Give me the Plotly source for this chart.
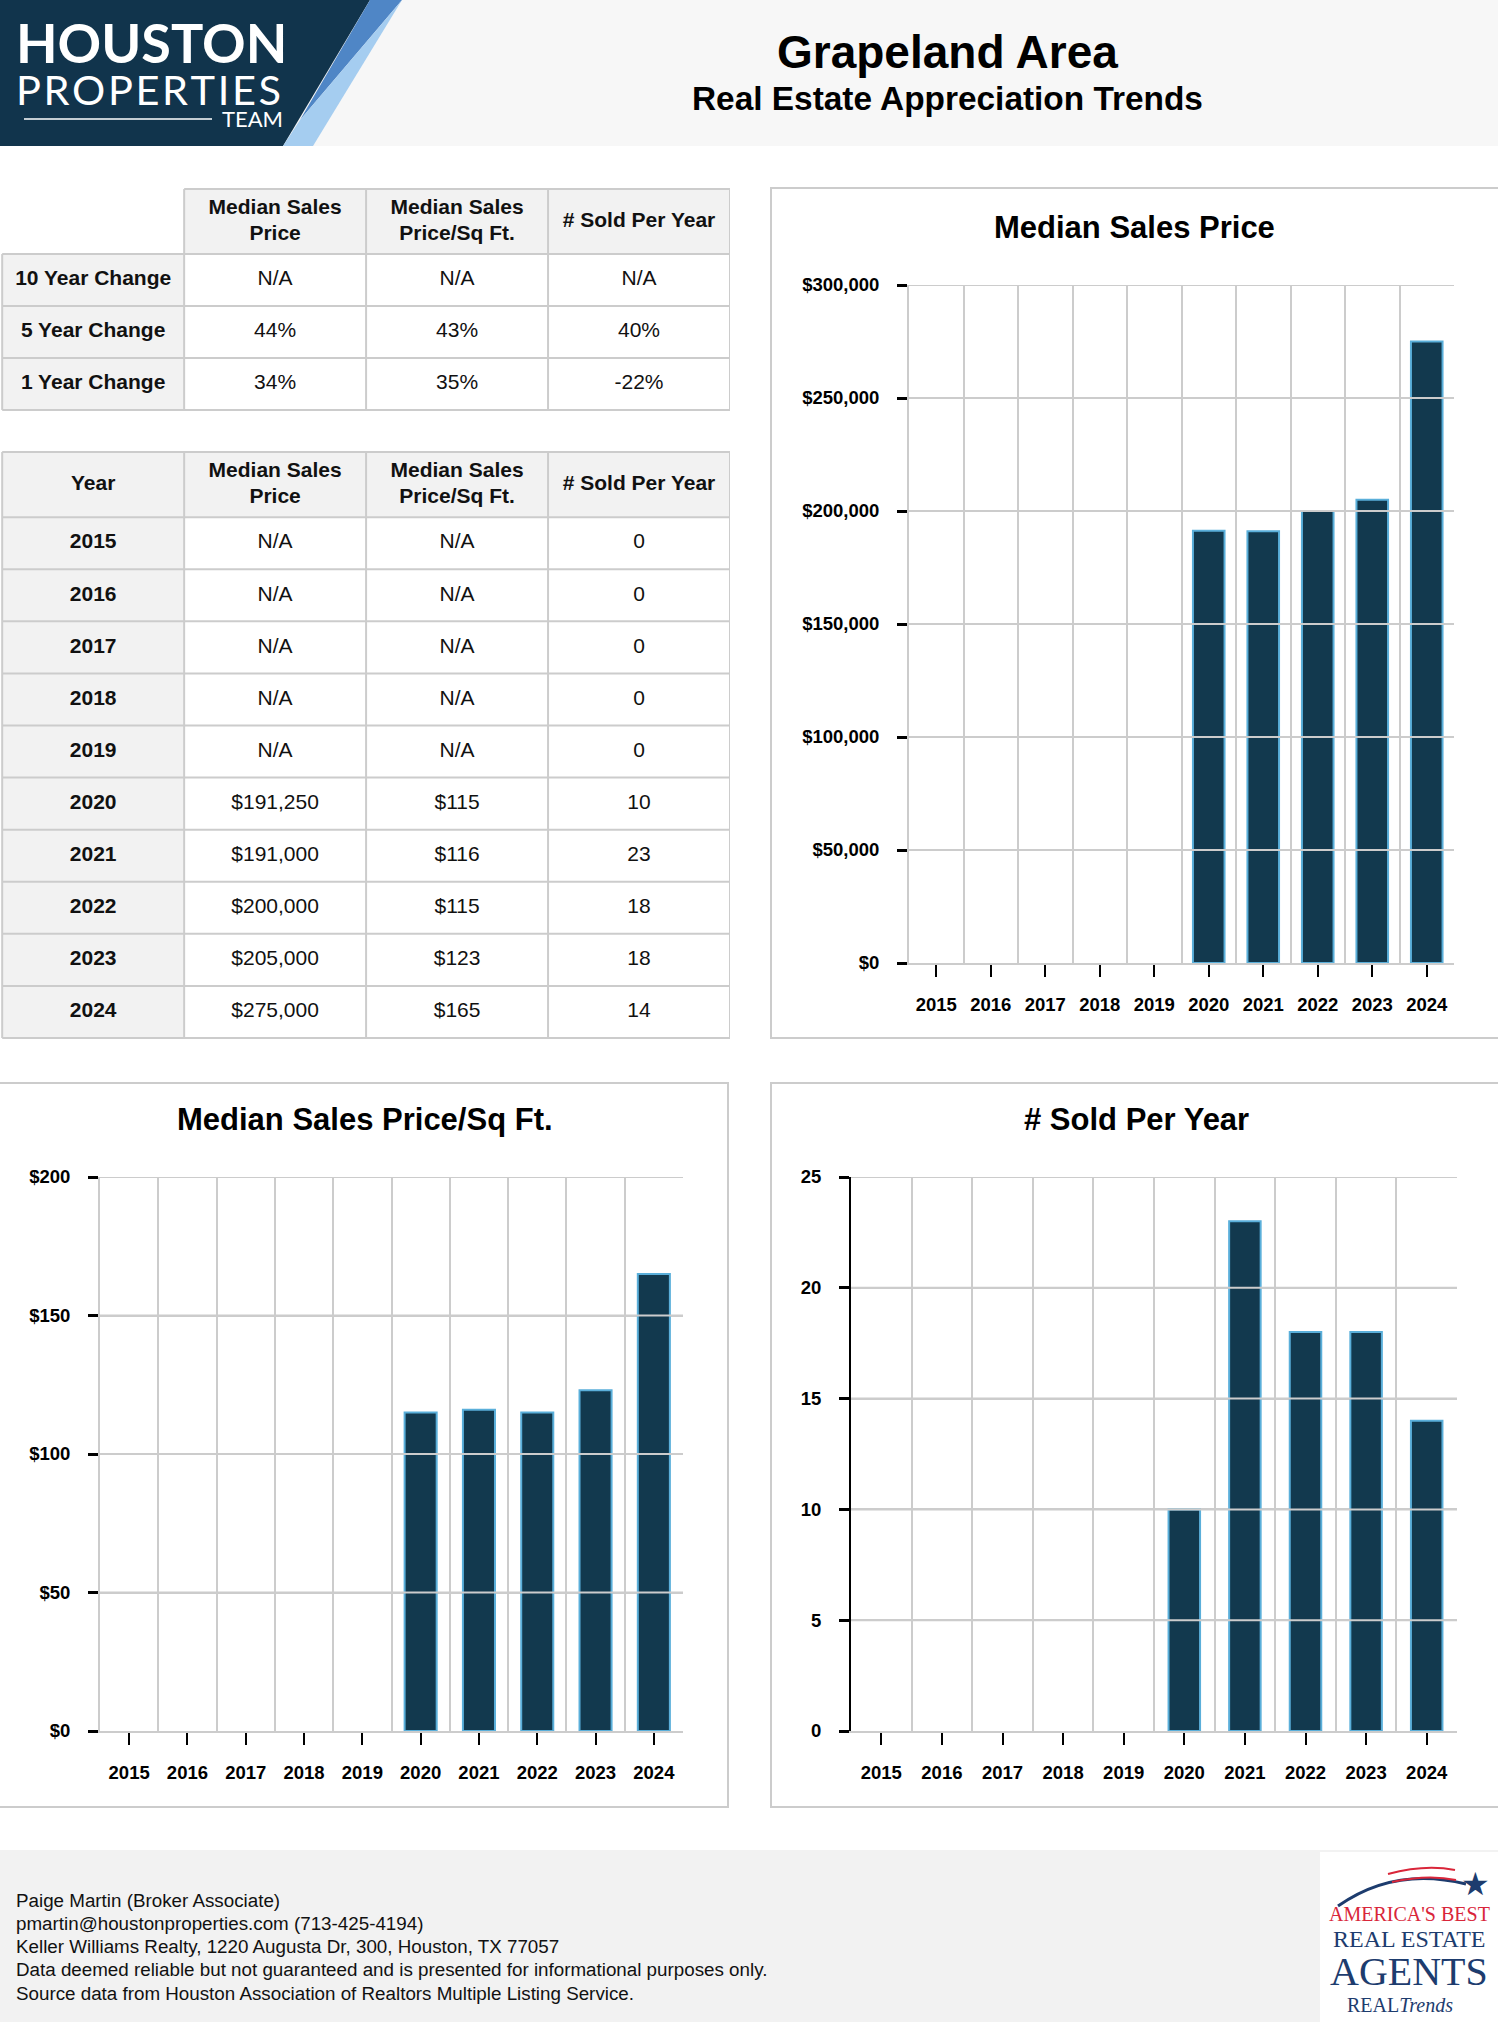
"""Grapeland Area - real estate appreciation trends sheet (plotly)."""
import plotly.graph_objects as go

W, H = 1498, 2022

years = [2015, 2016, 2017, 2018, 2019, 2020, 2021, 2022, 2023, 2024]
median_price = [None, None, None, None, None, 191250, 191000, 200000, 205000, 275000]
price_per_sqft = [None, None, None, None, None, 115, 116, 115, 123, 165]
sold_per_year = [0, 0, 0, 0, 0, 10, 23, 18, 18, 14]

change_labels = ["10 Year Change", "5 Year Change", "1 Year Change"]
change_price = ["N/A", "44%", "34%"]
change_ppsf = ["N/A", "43%", "35%"]
change_sold = ["N/A", "40%", "-22%"]

metric_headers = ["Median Sales<br>Price", "Median Sales<br>Price/Sq Ft.", "# Sold Per Year"]

footer_lines = [
    "Paige Martin (Broker Associate)",
    "pmartin@houstonproperties.com (713-425-4194)",
    "Keller Williams Realty, 1220 Augusta Dr, 300, Houston, TX 77057",
    "Data deemed reliable but not guaranteed and is presented for informational purposes only.",
    "Source data from Houston Association of Realtors Multiple Listing Service.",
]

FONT = "Liberation Sans, Arial, sans-serif"
LOGO_FONT = "Lato, Open Sans, sans-serif"
SERIF = "Liberation Serif, DejaVu Serif, serif"
NAVY = "#11344c"
BAR = "#12394e"
BAR_EDGE = "#5aafda"
GRID = "#cccccc"
HEAD_BG = "#f2f2f2"
TABLE_SIZE = 21
TICK_SIZE = 18.5


def fx(x):
    return x / W


def fy(y):
    return 1 - y / H


def money(v):
    return "N/A" if v is None else f"${v:,}"


fig = go.Figure()
shapes = []
annotations = []


def ann(text, x, y, size, color="black", family=FONT, xanchor="center", bold=False):
    annotations.append(dict(
        text=f"<b>{text}</b>" if bold else text, x=fx(x), y=fy(y),
        xref="paper", yref="paper", xanchor=xanchor, yanchor="middle",
        showarrow=False, font=dict(family=family, size=size, color=color)))


def rect(x0, y0, x1, y1, fill, line=None, width=0, layer="below"):
    shapes.append(dict(type="rect", xref="paper", yref="paper",
                       x0=fx(x0), y0=fy(y0), x1=fx(x1), y1=fy(y1),
                       fillcolor=fill, line=dict(color=line or fill, width=width),
                       layer=layer))


def poly(points, fill):
    path = "M " + " L ".join(f"{fx(x)},{fy(y)}" for x, y in points) + " Z"
    shapes.append(dict(type="path", xref="paper", yref="paper", path=path,
                       fillcolor=fill, line=dict(width=0), layer="below"))


# ---------------- tables ----------------
HEAD_UNITS = 1.25


def add_table(header, rows, xa, ya, blank_corner):
    edges = [0, HEAD_UNITS] + [HEAD_UNITS + i + 1 for i in range(len(rows))]
    z = [[0 if blank_corner else 1, 1, 1, 1]] + [[1, 0, 0, 0] for _ in rows]
    fig.add_trace(go.Heatmap(x=[0, 1, 2, 3, 4], y=edges, z=z, zmin=0, zmax=1,
                             colorscale=[[0, "white"], [1, HEAD_BG]], showscale=False,
                             hoverinfo="skip", xaxis=xa, yaxis=ya))
    lx, ly = [], []
    for i, e in enumerate(edges):
        lx += [1 if (blank_corner and i == 0) else 0, 4, None]
        ly += [e, e, None]
    for c in range(5):
        lx += [c, c, None]
        ly += [edges[1] if (blank_corner and c == 0) else 0, edges[-1], None]
    fig.add_trace(go.Scatter(x=lx, y=ly, mode="lines", line=dict(color=GRID, width=2),
                             hoverinfo="skip", xaxis=xa, yaxis=ya))

    bx, by, bt, rx, ry, rt = [], [], [], [], [], []
    for c, label in enumerate(header):
        parts = label.split("<br>")
        for k, part in enumerate(parts):
            bx.append(c + 0.5)
            by.append(HEAD_UNITS / 2 + (k - (len(parts) - 1) / 2) * 0.5)
            bt.append(f"<b>{part}</b>")
    for r, row in enumerate(rows):
        yc = edges[r + 1] + 0.5
        for c, val in enumerate(row):
            if c == 0:
                bx.append(c + 0.5); by.append(yc); bt.append(f"<b>{val}</b>")
            else:
                rx.append(c + 0.5); ry.append(yc); rt.append(val)
    for xs, ys, ts in ((bx, by, bt), (rx, ry, rt)):
        fig.add_trace(go.Scatter(x=xs, y=ys, text=ts, mode="text", textposition="middle center",
                                 textfont=dict(family=FONT, size=TABLE_SIZE, color="#111111"),
                                 hoverinfo="skip", xaxis=xa, yaxis=ya))
    return edges[-1]


change_rows = [list(r) for r in zip(change_labels, change_price, change_ppsf, change_sold)]
year_rows = [[str(y), money(p), money(q), str(s)]
             for y, p, q, s in zip(years, median_price, price_per_sqft, sold_per_year)]

t1_height = add_table([""] + metric_headers, change_rows, "x4", "y4", True)
t2_height = add_table(["Year"] + metric_headers, year_rows, "x5", "y5", False)


# ---------------- bar charts ----------------
def add_bars(values, xa, ya, width):
    # empty years get no bar at all (not even an outline)
    fig.add_trace(go.Bar(x=years, y=[v if v else None for v in values], width=width,
                         marker=dict(color=BAR, line=dict(color=BAR_EDGE, width=2)),
                         hoverinfo="skip", xaxis=xa, yaxis=ya))


add_bars(median_price, "x", "y", 0.58)
add_bars(price_per_sqft, "x2", "y2", 0.55)
add_bars(sold_per_year, "x3", "y3", 0.52)

tickfont = dict(family=FONT, size=TICK_SIZE, color="black", weight="bold")


def xaxis_cfg(domain, anchor):
    return dict(domain=domain, anchor=anchor, range=[years[0] - 0.5, years[-1] + 0.5],
                tickmode="array", tickvals=years, ticks="outside", ticklen=12, tickwidth=2,
                tickcolor="black", showgrid=False, showline=True, linecolor=GRID, linewidth=2,
                zeroline=False, tickfont=tickfont, fixedrange=True, ticklabelstandoff=12,
                minor=dict(tickmode="array", tickvals=[y - 0.5 for y in years] + [years[-1] + 0.5],
                           showgrid=True, gridcolor=GRID, gridwidth=2, ticks=""))


def yaxis_cfg(domain, anchor, top, step, prefix, linecolor=GRID):
    return dict(domain=domain, anchor=anchor, range=[0, top], tick0=0, dtick=step,
                tickprefix=prefix, tickformat=",", ticks="outside", ticklen=10, tickwidth=3,
                tickcolor="black", showgrid=True, gridcolor=GRID, gridwidth=2,
                showline=True, linecolor=linecolor, linewidth=2, zeroline=False,
                tickfont=tickfont, fixedrange=True, ticklabelstandoff=14)


charts = [
    # (xaxis, yaxis, x-domain px, y-domain px, top, step, prefix, title, title pos, y line)
    ("x", "y", (909, 1454), (285, 963), 300000, 50000, "$", "Median Sales Price", (1134, 227), GRID),
    ("x2", "y2", (100, 683), (1177, 1731), 200, 50, "$", "Median Sales Price/Sq Ft.", (365, 1119), GRID),
    ("x3", "y3", (851, 1457), (1177, 1731), 25, 5, "", "# Sold Per Year", (1136, 1119), "black"),
]

layout_axes = {}
for xa, ya, (x0, x1), (y0, y1), top, step, prefix, title, (tx, ty), ylc in charts:
    xname = "xaxis" + xa[1:]
    yname = "yaxis" + ya[1:]
    layout_axes[xname] = xaxis_cfg([fx(x0), fx(x1)], ya)
    layout_axes[yname] = yaxis_cfg([fy(y1), fy(y0)], xa, top, step, prefix, ylc)
    ann(title, tx, ty, 31, bold=True)
    # horizontal grid drawn again above the bars, as in the original
    v = step
    while v <= top:
        shapes.append(dict(type="line", xref=f"{xa} domain", yref=ya, x0=0, x1=1, y0=v, y1=v,
                           line=dict(color=GRID, width=2), layer="above"))
        v += step

table_axis = dict(visible=False, fixedrange=True)
layout_axes["xaxis4"] = dict(domain=[0, fx(730)], range=[-0.012, 4.0], anchor="y4", **table_axis)
layout_axes["yaxis4"] = dict(domain=[fy(411), fy(188)], range=[t1_height + 0.02, -0.02],
                             anchor="x4", **table_axis)
layout_axes["xaxis5"] = dict(domain=[0, fx(730)], range=[-0.012, 4.0], anchor="y5", **table_axis)
layout_axes["yaxis5"] = dict(domain=[fy(1039), fy(451)], range=[t2_height + 0.02, -0.02],
                             anchor="x5", **table_axis)

# ---------------- page furniture ----------------
rect(0, 0, W, 146, "#f7f7f7")
poly([(0, 0), (370, 0), (283, 146), (0, 146)], NAVY)
poly([(370, 0), (402, 0), (300, 120)], "#4f86c6")
poly([(402, 0), (313, 146), (283, 146), (300, 120)], "#a5cdf0")
ann("<b>HOUSTON</b>", 14, 42, 54, "white", LOGO_FONT, "left")
ann("\u200a".join("PROPERTIES"), 14, 89, 41.5, "white", LOGO_FONT, "left")
ann("TEAM", 285, 118, 22, "white", LOGO_FONT, "right")
shapes.append(dict(type="line", xref="paper", yref="paper", x0=fx(24), x1=fx(212),
                   y0=fy(119), y1=fy(119), line=dict(color="rgba(255,255,255,0.75)", width=2)))

ann("Grapeland Area", 947, 52, 46, bold=True)
ann("Real Estate Appreciation Trends", 947, 99, 33.4, bold=True)

# chart frames
rect(771, 188, W + 5, 1038, "rgba(0,0,0,0)", GRID, 2)
rect(-5, 1083, 728, 1807, "rgba(0,0,0,0)", GRID, 2)
rect(771, 1083, W + 5, 1807, "rgba(0,0,0,0)", GRID, 2)

# footer
rect(0, 1850, W, H + 5, "#f2f2f2")
for i, line in enumerate(footer_lines):
    ann(line, 14, 1900 + i * 23.3, 18.8, "#111111", FONT, "left")

# award badge
rect(1320, 1852, W + 5, H + 5, "white")
shapes.append(dict(type="path", xref="paper", yref="paper",
                   path=f"M {fx(1338)},{fy(1906)} Q {fx(1395)},{fy(1866)} {fx(1466)},{fy(1884)}",
                   line=dict(color="#1d3c6e", width=3)))
shapes.append(dict(type="path", xref="paper", yref="paper",
                   path=f"M {fx(1388)},{fy(1874)} Q {fx(1425)},{fy(1864)} {fx(1455)},{fy(1870)}",
                   line=dict(color="#d9263a", width=2)))
shapes.append(dict(type="path", xref="paper", yref="paper",
                   path=f"M {fx(1392)},{fy(1882)} Q {fx(1428)},{fy(1874)} {fx(1456)},{fy(1880)}",
                   line=dict(color="#d9263a", width=2)))
ann("★", 1475, 1884, 32, "#1d3c6e", "DejaVu Sans")
ann("AMERICA'S BEST", 1409, 1914, 20, "#d9263a", SERIF)
ann("REAL ESTATE", 1409, 1939, 24, "#1d3c6e", SERIF)
ann("AGENTS", 1409, 1971, 40, "#1d3c6e", SERIF)
ann("REAL<i>Trends</i>", 1400, 2005, 20, "#1d3c6e", SERIF)

fig.update_layout(
    width=W, height=H, margin=dict(l=0, r=0, t=0, b=0, autoexpand=False),
    paper_bgcolor="white", plot_bgcolor="rgba(0,0,0,0)",
    showlegend=False, shapes=shapes, annotations=annotations,
    **layout_axes,
)

fig.write_html("out.html", config={"displayModeBar": False},
               post_script="document.body.style.margin='0';"
                           "document.documentElement.style.overflow='hidden';")
